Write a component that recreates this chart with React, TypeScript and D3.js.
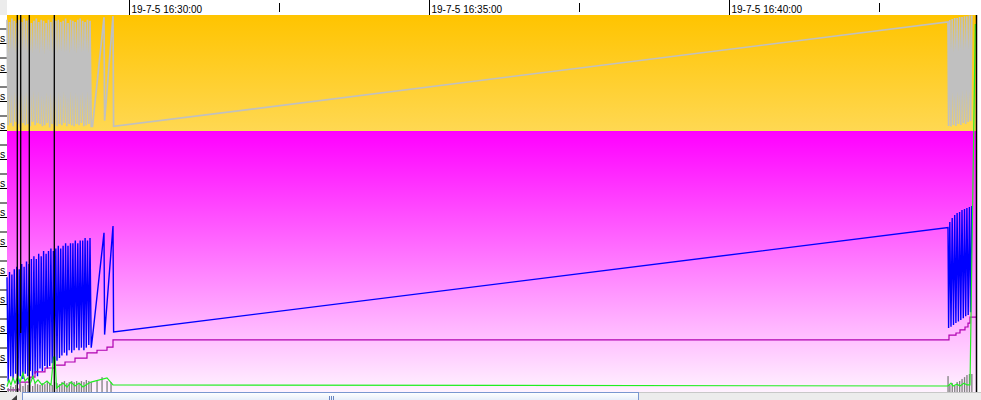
import React from "react";
import * as d3 from "d3";

const W = 981;
const H = 400;

// time window shown in the strip
const START = "2019-07-05 16:27:58";
const END = "2019-07-05 16:44:06";
const tickTimes = [
  "2019-07-05 16:30:00", "2019-07-05 16:32:30", "2019-07-05 16:35:00",
  "2019-07-05 16:37:30", "2019-07-05 16:40:00", "2019-07-05 16:42:30",
];
const labelTimes = ["2019-07-05 16:30:00", "2019-07-05 16:35:00", "2019-07-05 16:40:00"];

// samples, seconds after START (shared by the gray and blue traces)
const sampleSecs = [
  0, 1.2, 2.5, 3.7, 4.9, 6.1, 7.3, 8.6, 9.8, 11.0,
  12.2, 13.4, 14.7, 15.9, 17.1, 18.3, 19.5, 20.8, 22.0, 23.2,
  24.4, 25.6, 26.9, 28.1, 29.3, 30.5, 31.7, 33.0, 34.2, 35.4,
  36.6, 37.8, 39.1, 40.3, 41.5, 42.7, 43.9, 45.2, 46.4, 47.6,
  48.8, 50.0, 51.3, 52.5, 53.7, 54.9, 56.1, 57.4, 58.6, 59.8,
  61.0, 62.2, 63.5, 64.7, 65.9, 67.1, 68.3, 69.6, 70.8, 72.0,
  73.2, 74.4, 75.7, 76.9, 78.1, 79.3, 80.5, 81.8, 83.0, 84.2,
  85.5, 97, 97.6, 106, 106.6,
  941, 941.6, 942.8, 944.0, 945.2, 946.5, 947.7, 948.9, 950.1, 951.4,
  952.6, 953.8, 955.0, 956.3, 957.5, 958.7, 959.9, 961.2, 962.4, 963.6, 964.8,
];

// upper (orange) lane, 0-100
const grayVals = [
  96, 5, 94, 7, 97, 4, 95, 8, 93, 6, 96, 3, 94, 7, 97, 5, 95, 6, 96, 4,
  93, 8, 95, 5, 97, 7, 94, 6, 96, 4, 95, 5, 93, 7, 96, 3, 94, 6, 97, 5,
  95, 4, 96, 6, 94, 5, 95, 7, 97, 4, 93, 6, 96, 5, 95, 4, 94, 6, 96, 5,
  97, 7, 95, 4, 94, 5, 96, 6, 95, 4,
  4, 98, 9, 99, 4,
  94, 4.3, 95.7, 3.8, 96.5, 5.2, 97.4, 4.3, 97.4, 6, 98.3,
  5.2, 98.3, 6.9, 99, 6, 99, 7.8, 99.5, 8.6, 99.5,
];

// lower (magenta) lane, 0-100
const blueVals = [
  44, 4, 46, 6, 45, 5, 47, 7, 48, 3, 47, 6, 49, 5, 48, 7, 50, 6, 49, 8,
  51, 5, 52, 7, 51, 6, 53, 9, 52, 8, 54, 10, 53, 9, 54, 10, 55, 11, 54, 10,
  55, 12, 56, 13, 55, 14, 56, 15, 57, 14, 56, 16, 57, 15, 57, 16, 58, 17, 57, 16,
  58, 17, 58, 16, 59, 17, 58, 18, 59, 17,
  21, 61, 22, 63.6, 23,
  63, 24.5, 65.1, 25, 66.7, 25.7, 67.8, 26.4, 68.6, 27, 69,
  27.6, 69.7, 28.3, 70.1, 29, 70.5, 29.5, 70.9, 30.6, 71.3,
];

const purpleSecs = [0, 13, 23, 28, 38, 48, 58, 68, 80, 90, 100, 106, 942, 949, 953, 958, 961, 963, 969];
const purpleVals = [0.8, 3.8, 5.7, 7.7, 9.2, 10.3, 11.5, 13, 15, 16, 17.2, 20, 21.8, 22.6, 23.8, 24.9, 26.4, 28.7, 28.7];

const greenSecs = [
  0, 2, 4, 6, 8, 11, 13, 16, 18, 21, 23, 26, 28, 31, 35, 40, 44, 46.5, 48, 49.5,
  52, 56, 60, 64, 68, 72, 76, 80, 84, 100, 106, 941, 944, 946, 950, 953, 957, 960, 963, 968.3,
];
const greenVals = [
  2, 4.6, 2.7, 5.4, 3.4, 6, 3.8, 7.3, 4.2, 5.4, 3, 6, 3.4, 4.6, 2.7, 4.2, 2.7, 13.4, 13.4, 1.5,
  2.3, 3.4, 1.9, 3.8, 2.3, 3.4, 1.9, 3, 3.8, 5.4, 2.7, 2.3, 3.4, 2.3, 3, 2.3, 3.4, 2.7, 2.7, 141,
];

const barSecs = [
  1.2, 3.7, 6.1, 8.6, 11, 13.4, 15.9, 18.3, 20.8, 23.2, 25.6, 28.1, 30.5, 33, 35.4, 37.8,
  40.3, 42.7, 45.2, 47.6, 50, 52.5, 54.9, 57.4, 59.8, 62.2, 64.7, 67.1, 69.6, 72, 74.4,
  76.9, 79.3, 81.8, 84.2, 90, 95, 100, 104,
  941, 942.8, 945.2, 947.7, 950.1, 952.6, 955, 957.5, 959.9, 962.4, 964.8,
];
const barVals = [
  1.5, 2.3, 1.9, 2.7, 1.5, 3, 2.3, 3.4, 2.7, 3, 2.3, 3.4, 3, 2.7, 3.4, 3,
  3.8, 3.4, 2.7, 3.8, 3.4, 3, 3.8, 4.2, 3.4, 3.8, 4.2, 3.8, 4.2, 3.4, 4.2,
  3.8, 4.6, 4.2, 3.8, 4.6, 5.7, 4.2, 3.8,
  6.1, 2.7, 3.4, 2.3, 3.8, 4.2, 5, 5.7, 6.5, 6.9, 6.9,
];

// cursor lines (seconds after START) and where each one stops
const markerSecs = [10.3, 13.7, 22.3, 47.3];
const markerEnds = [392, 333, 392, 392];

const sideTicks = d3.range(0, 26);

export default function App() {
  const parse = d3.timeParse("%Y-%m-%d %H:%M:%S");
  const t0 = parse(START)!;
  const x = d3.scaleTime().domain([t0, parse(END)!]).range([7, 975]);
  const sx = (s: number) => x(new Date(t0.getTime() + s * 1000));
  const yTop = d3.scaleLinear().domain([0, 100]).range([131, 15]);
  const yBot = d3.scaleLinear().domain([0, 100]).range([392, 131]);
  const ySide = d3.scaleLinear().domain([0, 24]).range([391.5, 43.5]);
  const fmt = d3.timeFormat("%y-%-m-%-d %H:%M:%S");
  const labelSet = new Set(labelTimes);

  const grayLine = d3.line<number>().x((_, i) => sx(sampleSecs[i])).y(d => yTop(d));
  const blueLine = d3.line<number>().x((_, i) => sx(sampleSecs[i])).y(d => yBot(d));
  const purpleLine = d3.line<number>().curve(d3.curveStepAfter).x((_, i) => sx(purpleSecs[i])).y(d => yBot(d));
  const greenLine = d3.line<number>().x((_, i) => sx(greenSecs[i])).y(d => yBot(d));

  const font = "'Liberation Sans', Arial, sans-serif";

  return (
    <div>
      <style>{"body{margin:0;overflow:hidden}"}</style>
      <svg width={W} height={H} style={{ display: "block", background: "#fff" }}>
        <defs>
          <linearGradient id="gOrange" x1="0" y1="0" x2="0" y2="1">
            <stop offset="0" stopColor="#ffc400" />
            <stop offset="1" stopColor="#ffd852" />
          </linearGradient>
          <linearGradient id="gMagenta" x1="0" y1="0" x2="0" y2="1">
            <stop offset="0" stopColor="#ff00ff" />
            <stop offset="1" stopColor="#fff2ff" />
          </linearGradient>
          <linearGradient id="gThumb" x1="0" y1="0" x2="0" y2="1">
            <stop offset="0" stopColor="#ffffff" />
            <stop offset="1" stopColor="#e3ebf8" />
          </linearGradient>
        </defs>

        {/* header */}
        <rect x={0} y={0} width={7} height={15} fill="#ececec" />
        {tickTimes.map(t => {
          const xx = Math.round(x(parse(t)!)) + 0.5;
          const big = labelSet.has(t);
          return (
            <g key={t}>
              <line x1={xx} x2={xx} y1={big ? 0 : 3} y2={big ? 15 : 12} stroke="#000" strokeWidth={1} />
              {big && (
                <text x={xx + 2} y={12.5} fontSize={10} fontFamily={font} fill="#000">
                  {fmt(parse(t)!)}
                </text>
              )}
            </g>
          );
        })}

        {/* lanes */}
        <rect x={7} y={15} width={969} height={116} fill="url(#gOrange)" />
        <rect x={7} y={131} width={969} height={261} fill="url(#gMagenta)" />

        {/* side axis */}
        {sideTicks.map(v => (
          <line key={v} x1={0} x2={7} y1={ySide(v)} y2={ySide(v)} stroke="#000" strokeWidth={1} />
        ))}
        {sideTicks.filter(v => v % 2 === 0).map(v => (
          <text key={"l" + v} x={0} y={ySide(v) - 1.5} fontSize={10.5} fontFamily={font} fill="#000">
            s
          </text>
        ))}

        {/* traces */}
        <path d={grayLine(grayVals) ?? ""} fill="none" stroke="#c0c0c0" strokeWidth={1.7} />
        <path d={blueLine(blueVals) ?? ""} fill="none" stroke="#0000ff" strokeWidth={1.4} />
        <path d={purpleLine(purpleVals) ?? ""} fill="none" stroke="#b000b0" strokeWidth={1.2} />
        {barSecs.map((s, i) => (
          <rect key={"b" + i} x={sx(s) - 0.6} y={yBot(barVals[i])} width={1.3} height={yBot(0) - yBot(barVals[i])} fill="#808080" />
        ))}
        <path d={greenLine(greenVals) ?? ""} fill="none" stroke="#22ee22" strokeWidth={1.2} />

        {markerSecs.map((s, i) => (
          <line key={"m" + i} x1={sx(s)} x2={sx(s)} y1={15} y2={markerEnds[i]} stroke="#000" strokeWidth={1.3} />
        ))}
        <line x1={976.5} x2={976.5} y1={15} y2={392} stroke="#000" strokeWidth={1.5} />

        {/* scrollbar */}
        <rect x={0} y={392} width={W} height={8} fill="#ececec" />
        <line x1={638} x2={W} y1={392.5} y2={392.5} stroke="#c8c8c8" />
        <path d="M17,395 L17,400 L11.5,400 Z" fill="#3c3c3c" />
        <rect x={22.5} y={392.5} width={616} height={9} fill="url(#gThumb)" stroke="#7a96d0" strokeWidth={1} />
        {[329, 331, 333].map(g => (
          <line key={g} x1={g + 0.5} x2={g + 0.5} y1={396} y2={400} stroke="#6a85c0" />
        ))}
      </svg>
    </div>
  );
}
